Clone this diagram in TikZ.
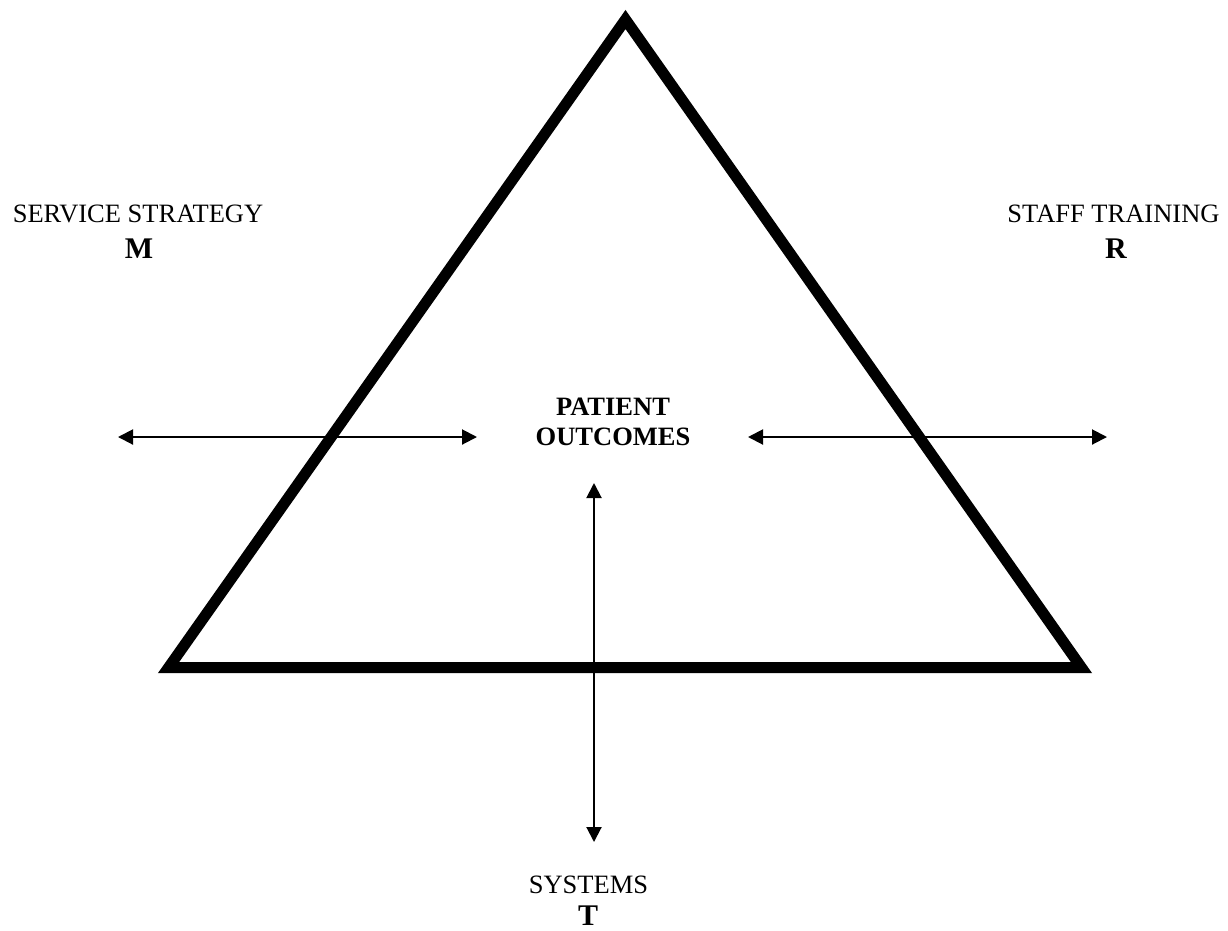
\documentclass[tikz,border=0pt]{standalone}
\usepackage{fontspec}
\setmainfont{Liberation Serif}
\usetikzlibrary{arrows.meta}
\begin{document}
\begin{tikzpicture}[x=1pt,y=-1pt,
  lbl/.style={anchor=base,inner sep=0pt,font=\fontsize{26.5}{30}\selectfont},
  key/.style={lbl,font=\fontsize{26.5}{30}\selectfont\bfseries},
  letter/.style={lbl,font=\fontsize{30}{34}\selectfont\bfseries},
  link/.style={line width=2pt,{Triangle[length=15pt,width=15pt]}-{Triangle[length=15pt,width=15pt]}}]
  \useasboundingbox (0,0) rectangle (1228,930);
  % the triangle
  \coordinate (apex) at (625.5,19.5);
  \coordinate (bl) at (168.6,667.5);
  \coordinate (br) at (1081.4,667.5);
  \draw[line width=11pt,miter limit=10] (apex) -- (br) -- (bl) -- cycle;
  % centre label
  \node[key] (patient) at (613,415) {PATIENT};
  \node[key] (outcomes) at (613,445) {OUTCOMES};
  % corner labels
  \node[lbl] (strategy) at (138,222) {SERVICE STRATEGY};
  \node[letter] (m) at (139,258) {M};
  \node[lbl] (training) at (1113.5,222) {STAFF TRAINING};
  \node[letter] (r) at (1116,258) {R};
  \node[lbl] (systems) at (588.5,893) {SYSTEMS};
  \node[letter] (t) at (588,925) {T};
  % connector ends
  \coordinate (lA) at (118,437);
  \coordinate (lB) at (477,437);
  \coordinate (rA) at (748,437);
  \coordinate (rB) at (1107,437);
  \coordinate (vA) at (594,483);
  \coordinate (vB) at (594,842);
  \draw[link] (lA) -- (lB);
  \draw[link] (rA) -- (rB);
  \draw[link] (vA) -- (vB);
\end{tikzpicture}
\end{document}
